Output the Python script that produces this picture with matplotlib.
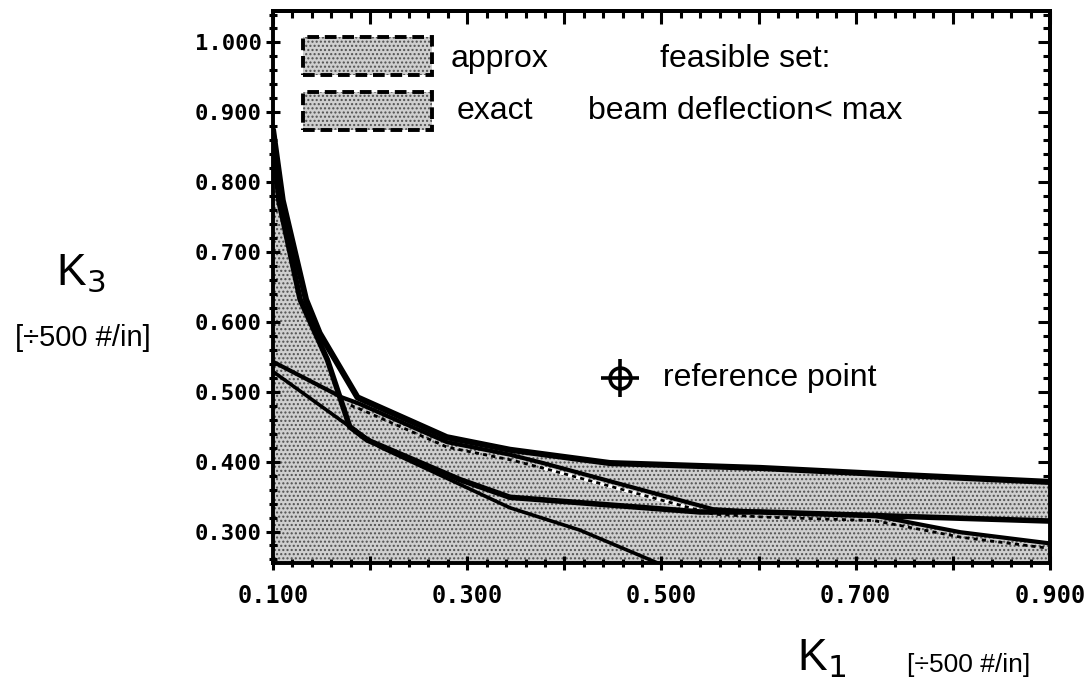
import numpy as np
import matplotlib.pyplot as plt
from matplotlib.patches import Rectangle
from matplotlib.ticker import MultipleLocator
from matplotlib import transforms

plt.rcParams['font.family'] = ['Liberation Sans', 'DejaVu Sans']

# boundary curves (K1, K3)
t1_k1 = [0.100, 0.110, 0.134, 0.148, 0.187, 0.279, 0.344, 0.447, 0.602, 0.746, 0.900]
t1_k3 = [0.875, 0.774, 0.632, 0.584, 0.492, 0.435, 0.417, 0.398, 0.391, 0.381, 0.371]
t2_k1 = [0.100, 0.106, 0.128, 0.156, 0.179, 0.197, 0.293, 0.344, 0.540, 0.602, 0.900]
t2_k3 = [0.872, 0.774, 0.632, 0.546, 0.450, 0.431, 0.374, 0.349, 0.328, 0.328, 0.315]
l1_k1 = [0.100, 0.171, 0.187, 0.279, 0.344, 0.378, 0.553, 0.602, 0.718, 0.808, 0.900]
l1_k3 = [0.543, 0.492, 0.484, 0.428, 0.410, 0.398, 0.332, 0.328, 0.323, 0.299, 0.283]
l2_k1 = [0.100, 0.179, 0.210, 0.344, 0.416, 0.496]
l2_k3 = [0.529, 0.450, 0.421, 0.334, 0.302, 0.255]
ref_k1, ref_k3 = 0.457, 0.520

x_ticks = [0.1, 0.2, 0.3, 0.4, 0.5, 0.6, 0.7, 0.8, 0.9]
x_tick_labels = ['0.100', '', '0.300', '', '0.500', '', '0.700', '', '0.900']
y_ticks = [0.3, 0.4, 0.5, 0.6, 0.7, 0.8, 0.9, 1.0]
y_tick_labels = ['0.300', '0.400', '0.500', '0.600', '0.700', '0.800', '0.900', '1.000']

fig = plt.figure(figsize=(10.85, 6.97), dpi=100)
ax = fig.add_axes([0.2516, 0.1923, 0.7161, 0.7919])
ax.set_xlim(0.1, 0.9)
ax.set_ylim(0.255, 1.045)

shade = dict(facecolor='#cfcfcf', edgecolor='#505050', hatch='....', linewidth=0)

# feasible region (shaded) with white gaps
x = np.linspace(0.1, 0.9, 1601)
top = np.interp(x, t1_k1, t1_k3)
t2 = np.interp(x, t2_k1, t2_k3)
l1 = np.interp(x, l1_k1, l1_k3)
ax.fill_between(x, 0.255, top, **shade)
low = np.maximum(t2, l1)
ax.fill_between(x, low, top, where=(x > 0.11) & (x < 0.19) & (top > low), color='white', lw=0)
ax.fill_between(x, l1, t2, where=(x > 0.70) & (t2 > l1), color='white', lw=0)

down = transforms.offset_copy(ax.transData, fig=fig, y=-5, units='dots')
m = (x >= 0.38) & (x <= 0.55)
ax.plot(x[m], l1[m], color='white', lw=2.5, transform=down)
m = x >= 0.18
ax.plot(x[m], l1[m], color='black', lw=2, ls=(0, (1.5, 1.5)), transform=down)

ax.plot(t1_k1, t1_k3, color='black', lw=4.4, solid_joinstyle='round', solid_capstyle='round')
ax.plot(t2_k1, t2_k3, color='black', lw=4.0, solid_joinstyle='round', solid_capstyle='round')
ax.plot(l1_k1, l1_k3, color='black', lw=3.0, solid_joinstyle='round')
ax.plot(l2_k1, l2_k3, color='black', lw=2.6, solid_joinstyle='round')

# reference point
ax.plot(ref_k1, ref_k3, 'o', ms=15, mfc='none', mec='black', mew=2.6)
ax.plot(ref_k1, ref_k3, '+', ms=27, mec='black', mew=2.6)
ax.annotate('reference point', (ref_k1, ref_k3), xytext=(31, 0),
            textcoords='offset points', va='center', fontsize=23)

# legend boxes
for y0 in [0.884, 0.784]:
    ax.add_patch(Rectangle((0.0386, y0), 0.166, 0.069, transform=ax.transAxes, **shade))
    ax.add_patch(Rectangle((0.0386, y0), 0.166, 0.069, transform=ax.transAxes,
                           fill=False, edgecolor='black', lw=2.8, ls=(0, (3, 1.5))))
ax.text(0.228, 0.913, 'approx', transform=ax.transAxes, va='center', fontsize=23)
ax.text(0.236, 0.818, 'exact', transform=ax.transAxes, va='center', fontsize=23)
ax.text(0.608, 0.913, 'feasible set:', transform=ax.transAxes, ha='center', va='center', fontsize=23)
ax.text(0.608, 0.818, 'beam deflection< max', transform=ax.transAxes, ha='center', va='center', fontsize=23)

# axes, ticks
for s in ax.spines.values():
    s.set_linewidth(2.8)
tickfont = dict(fontfamily='DejaVu Sans Mono', fontweight='bold')
ax.set_xticks(x_ticks, x_tick_labels, fontsize=17, **tickfont)
ax.set_yticks(y_ticks, y_tick_labels, fontsize=16, **tickfont)
shift = transforms.ScaledTranslation(-8 / 100, 0, fig.dpi_scale_trans)
for lab in ax.get_xticklabels():
    lab.set_transform(lab.get_transform() + shift)
ax.xaxis.set_minor_locator(MultipleLocator(0.02))
ax.yaxis.set_minor_locator(MultipleLocator(0.02))
ax.tick_params(which='major', direction='inout', length=10, width=2.2)
ax.tick_params(which='minor', direction='inout', length=6, width=2.2)
ax.tick_params(axis='x', pad=10)
ax.tick_params(axis='y', pad=3)

secx = ax.secondary_xaxis('top')
secy = ax.secondary_yaxis('right')
for sec, axis in [(secx, secx.xaxis), (secy, secy.yaxis)]:
    axis.set_major_locator(MultipleLocator(0.1))
    axis.set_minor_locator(MultipleLocator(0.02))
    sec.tick_params(which='major', direction='in', length=9, width=2.2)
    sec.tick_params(which='minor', direction='in', length=5, width=2.2)
    for s in sec.spines.values():
        s.set_linewidth(2.8)
secx.set_xticklabels([])
secy.set_yticklabels([])

# axis labels
fig.text(0.074, 0.608, 'K$_3$', ha='center', va='center', fontsize=32)
fig.text(0.076, 0.515, '[÷500 #/in]', ha='center', va='center', fontsize=21)
fig.text(0.757, 0.055, 'K$_1$', ha='center', va='center', fontsize=32)
fig.text(0.836, 0.046, '[÷500 #/in]', ha='left', va='center', fontsize=19)

fig.savefig('out.png', dpi=100)
